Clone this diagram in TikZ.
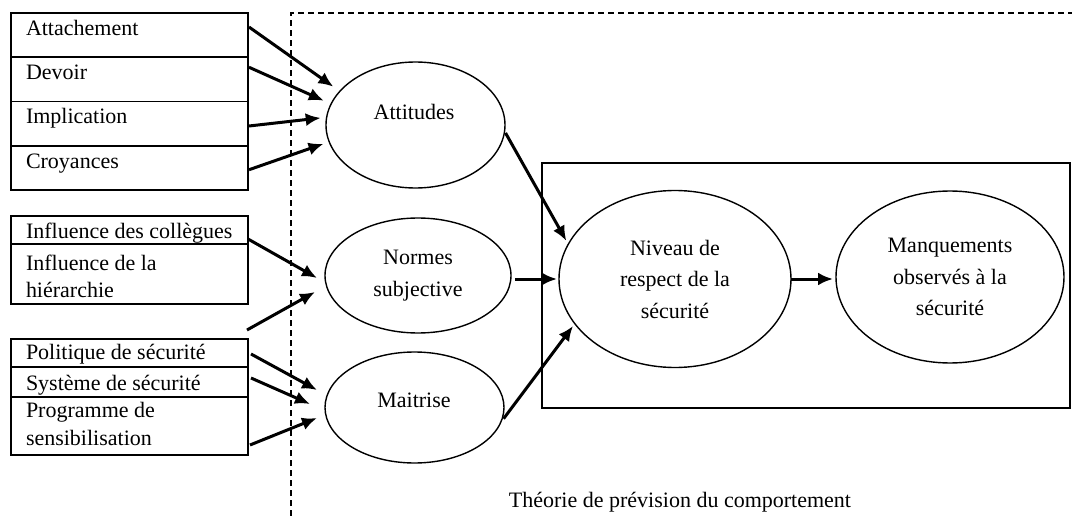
\documentclass[tikz,border=0pt]{standalone}
\usepackage{fontspec}
\setmainfont{Liberation Serif}
\usetikzlibrary{arrows.meta,calc,shapes.geometric}
\begin{document}
\begin{tikzpicture}[x=1pt,y=-1pt,
  every node/.style={font=\fontsize{22}{27.5}\selectfont, inner sep=0pt, outer sep=0pt},
  rowbox/.style={draw, line width=1.6pt, minimum width=237pt, anchor=north west},
  lbl/.style={anchor=base west, align=left},
  oval/.style={draw, ellipse, line width=1.4pt, align=center, font=\fontsize{22}{31.5}\selectfont},
  arr/.style={-{Latex[length=15pt,width=13pt]}, line width=3pt},
  frontier/.style={line width=1.4pt, dash pattern=on 6pt off 4pt},
]
\useasboundingbox (0,0) rectangle (1072,516);

% dashed frontier
\coordinate (d1) at (291,516);
\coordinate (d2) at (291,13);
\coordinate (d3) at (1072,13);
\draw[frontier] (d1) -- (d2) -- (d3);

% group 1
\node[rowbox, minimum height=44.25pt] (r1) at (11,13) {};
\node[rowbox, minimum height=44.25pt] (r2) at (r1.south west) {};
\node[rowbox, minimum height=44.25pt] (r3) at (r2.south west) {};
\node[rowbox, minimum height=44.25pt] (r4) at (r3.south west) {};
\node[lbl] (t1) at ($(r1.north west)+(15,22.5)$) {Attachement};
\node[lbl] (t2) at ($(r2.north west)+(15,22.5)$) {Devoir};
\node[lbl] (t3) at ($(r3.north west)+(15,22.5)$) {Implication};
\node[lbl] (t4) at ($(r4.north west)+(15,22.5)$) {Croyances};

% group 2
\node[rowbox, minimum height=28pt] (r5) at (11,216) {};
\node[rowbox, minimum height=60pt] (r6) at (r5.south west) {};
\node[lbl] (t5) at ($(r5.north west)+(15,23)$) {Influence des collègues};
\node[lbl] (t6) at ($(r6.north west)+(15,54)$) {Influence de la\\hiérarchie};

% group 3
\node[rowbox, minimum height=28pt] (r7) at (11,339) {};
\node[rowbox, minimum height=30pt] (r8) at (r7.south west) {};
\node[rowbox, minimum height=58pt] (r9) at (r8.south west) {};
\node[lbl] (t7) at ($(r7.north west)+(15,20)$) {Politique de sécurité};
\node[lbl] (t8) at ($(r8.north west)+(15,23)$) {Système de sécurité};
\node[lbl] (t9) at ($(r9.north west)+(15,48)$) {Programme de\\sensibilisation};

% ellipses
\node[oval, minimum width=179pt, minimum height=126pt] (att) at (415.5,125) {};
\node (attt) at (414,112) {Attitudes};
\node[oval, minimum width=186pt, minimum height=115pt] (nor) at (418,275.5) {Normes\\subjective};
\node[oval, minimum width=179pt, minimum height=111pt] (mai) at (414.5,407.5) {};
\node (mait) at (414,400) {Maitrise};

\node[draw, line width=1.8pt, minimum width=528pt, minimum height=245pt] (frame) at (806,285.5) {};
\node[oval, minimum width=232pt, minimum height=177pt] (niv) at (675,279) {Niveau de\\respect de la\\sécurité};
\node[oval, minimum width=228pt, minimum height=172pt] (man) at (950,277) {Manquements\\observés à la\\sécurité};

\node (cap) at (680,502) {Théorie de prévision du comportement};

% arrows into Attitudes
\draw[arr, shorten >=8pt] ($(r1.north east)+(1,14)$) -- (att.156);
\draw[arr, shorten >=8pt] ($(r2.north east)+(1,10)$) -- (att.166);
\draw[arr, shorten >=6pt] ($(r3.north east)+(1,24.5)$) -- (att.175);
\draw[arr, shorten >=6pt] ($(r4.north east)+(1,24)$) -- (att.191);

% arrows into Normes
\coordinate (free) at (247,330);
\draw[arr] ($(r5.north east)+(0,23)$) -- ($(nor.west)+(-8,2.5)$);
\draw[arr] (free) -- ($(nor.west)+(-10,16.5)$);

% arrows into Maitrise
\draw[arr] ($(r7.north east)+(3,15)$) -- ($(mai.west)+(-8,-17.5)$);
\draw[arr] ($(r8.north east)+(3,11)$) -- ($(mai.west)+(-15,-3.5)$);
\draw[arr] ($(r9.north east)+(2,48)$) -- ($(mai.west)+(-8,10.5)$);

% into Niveau
\draw[arr, shorten <=2pt, shorten >=4pt] (att.-4) -- (niv.162);
\draw[arr, shorten <=4pt, shorten >=2pt] (nor.east |- niv.west) -- (niv.west);
\draw[arr, shorten <=5pt, shorten >=3pt] (mai.-10) -- (niv.204);
\draw[arr, shorten >=3pt] (niv.east) -- (niv.east -| man.west);
\end{tikzpicture}
\end{document}
